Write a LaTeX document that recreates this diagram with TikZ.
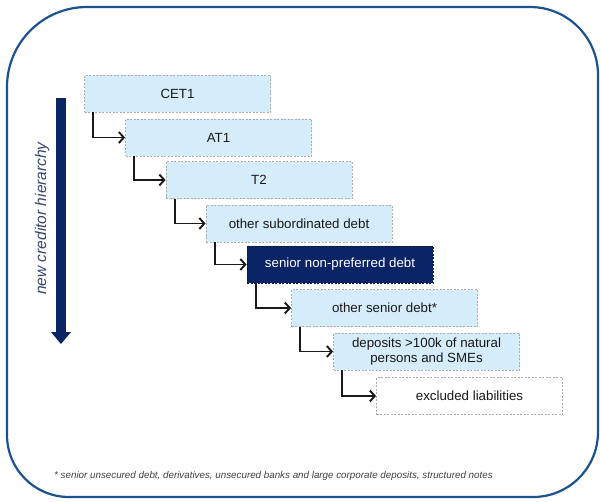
\documentclass[tikz,border=0pt]{standalone}
\usepackage{fontspec}
\setmainfont{Liberation Sans}
\usetikzlibrary{arrows.meta}
\definecolor{lightbox}{HTML}{D5ECFA}
\definecolor{navy}{HTML}{0B2466}
\definecolor{frame}{HTML}{1B5290}
\definecolor{sidetext}{HTML}{34466E}
\tikzset{
  tier/.style={draw=gray!65, dash pattern=on 2pt off 1.5pt, line width=0.8pt, fill=lightbox,
    minimum width=186pt, minimum height=37pt, inner sep=0pt, text=black!90,
    font=\fontsize{13.3}{15}\selectfont, align=center},
  darktier/.style={tier, fill=navy, draw=navy!60!black, text=white},
  whitetier/.style={tier, fill=white},
  elbow/.style={draw=black!90, line width=1.9pt, -{Straight Barb[length=5pt,width=11pt]}},
}
\begin{document}
\begin{tikzpicture}[x=1pt,y=-1pt]
\useasboundingbox (0,0) rectangle (601,501);
% outer frame
\draw[frame, line width=2.2pt] (7,250) [rounded corners=80pt] |- (300,7)
  [rounded corners=68pt] -| (598,250)
  [rounded corners=65pt] |- (300,497)
  [rounded corners=62pt] -| (7,250) -- cycle;
% tiers
\node[tier] (cet) at (177.5,93.5) {CET1};
\node[tier] (at) at (218.5,137.5) {AT1};
\node[tier] (t2) at (259,180) {T2};
\node[tier] (osd) at (299,223.5) {other subordinated debt};
\node[darktier] (snp) at (340,264.5) {senior non-preferred debt};
\node[tier] (osen) at (384.5,308) {other senior debt*};
\node[tier] (dep) at (426.5,351.5) {deposits >100k of natural\\persons and SMEs};
\node[whitetier] (excl) at (469.5,396) {excluded liabilities};
% elbow connectors
\foreach \a/\b in {cet/at, at/t2, t2/osd, osd/snp, snp/osen, osen/dep, dep/excl}
  \draw[elbow] ([xshift=9pt]\a.south west) |- (\b.west);
% hierarchy arrow
\fill[navy] (56,98) rectangle (66,332);
\fill[navy] (51,332) -- (71,332) -- (61,344) -- cycle;
\node[rotate=90, text=sidetext, font=\itshape\fontsize{15.5}{17}\selectfont] (lbl) at (42,218.5) {new creditor hierarchy};
% footnote
\node[anchor=west, inner sep=0pt, text=black!75, font=\itshape\fontsize{9.8}{11}\selectfont] (note) at (54,476)
  {* senior unsecured debt, derivatives, unsecured banks and large corporate deposits, structured notes};
\end{tikzpicture}
\end{document}
